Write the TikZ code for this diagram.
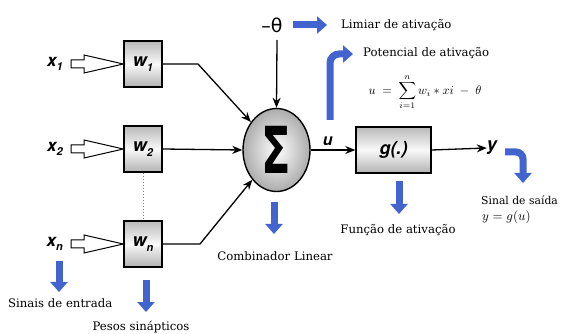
\documentclass[tikz,border=0pt]{standalone}
\usepackage{fontspec}
\usepackage{graphicx}
\setmainfont{DejaVu Serif}
\newfontfamily\hv{TeX Gyre Heros}
\newfontfamily\dvs{DejaVu Sans}
\usetikzlibrary{arrows.meta,calc,shapes.geometric}
\definecolor{barblue}{RGB}{66,100,206}
\newcommand\lsub[1]{\raisebox{-0.45ex}{\fontsize{11}{11}\selectfont #1}}
\newcommand\holarrow[2]{%
  \draw[line width=1pt, fill=white] let \p1=(#1), \p2=(#2) in
    (\x1,\y1+4pt) -- (\x1+13pt,\y1+4pt) -- (\x1+13pt,\y1+9pt) -- (\x2,\y1)
    -- (\x1+13pt,\y1-9pt) -- (\x1+13pt,\y1-4pt) -- (\x1,\y1-4pt) -- cycle;}
\begin{document}
\begin{tikzpicture}[x=1pt,y=-1pt,
  wbox/.style={draw=black, line width=1.4pt, minimum width=38pt, minimum height=46pt,
    top color=gray!55, bottom color=gray!60, middle color=gray!5, inner sep=0pt},
  lbl/.style={font=\hv\bfseries\itshape\fontsize{17}{17}\selectfont, inner sep=0pt},
  conn/.style={line width=1.3pt, -{Stealth[length=10pt,width=8pt]}},
  barrow/.style={barblue, line width=7pt, -{Triangle[length=10pt,width=17pt]}},
  txt/.style={font=\fontsize{11.7}{13}\selectfont, inner sep=0pt},
]
\useasboundingbox (0,0) rectangle (563,334);

% weight boxes
\node[wbox] (w1) at (143,64) {\hv\bfseries\itshape\fontsize{18}{18}\selectfont w\lsub{1}};
\node[wbox] (w2) at (143,149) {\hv\bfseries\itshape\fontsize{18}{18}\selectfont w\lsub{2}};
\node[wbox] (wn) at (143,244) {\hv\bfseries\itshape\fontsize{18}{18}\selectfont w\lsub{n}};
\draw[gray, line width=1pt, dotted] (w2.south) -- (wn.north);

% inputs
\node[lbl, anchor=east] (x1) at (63,64) {x\lsub{1}};
\node[lbl, anchor=east] (x2) at (63,149) {x\lsub{2}};
\node[lbl, anchor=east] (xn) at (63,244) {x\lsub{n}};
\coordinate (a1) at (71,64);
\coordinate (a2) at (71,149);
\coordinate (an) at (71,244);
\holarrow{a1}{w1.west}
\holarrow{a2}{w2.west}
\holarrow{an}{wn.west}

% summation
\node[ellipse, draw=black, line width=1.4pt, minimum width=67pt, minimum height=83pt,
  inner color=white, outer color=gray!65, inner sep=0pt] (sum) at (276.5,150)
  {\scalebox{0.72}[1.08]{\dvs\bfseries\fontsize{60}{60}\selectfont Σ}};

\coordinate (k1) at (198,64);
\coordinate (kn) at (200,244);
\draw[conn] (w1.east) -- (k1) -- (sum);
\draw[conn] (w2.east) -- (sum.west);
\draw[conn] (wn.east) -- (kn) -- (sum);

% threshold
\node[inner sep=0pt, font=\dvs\fontsize{19}{19}\selectfont] (th) at (272,25) {–θ};
\coordinate (th0) at (277,40);
\draw[conn] (th0) -- (sum.north);

% activation function
\node[wbox, minimum width=75pt] (g) at (393.5,150) {\hv\bfseries\itshape\fontsize{18}{18}\selectfont g(.)};
\draw[conn] (sum.east) -- node[lbl, above=4pt, pos=0.38, font=\hv\bfseries\itshape\fontsize{16}{16}\selectfont] (u) {u} (g.west);
\node[lbl, font=\hv\bfseries\itshape\fontsize{18}{18}\selectfont] (y) at (492,148) {y};
\draw[conn] (g.east) -- (y.west);

% annotations
\node[txt, anchor=west] (limiar) at (341,25) {Limiar de ativação};
\draw[barrow] (293,25) -- (327,25);

\node[txt, anchor=west] (pot) at (363,53) {Potencial de ativação};
\draw[barrow, rounded corners=9pt] (330,120) -- (330,54) -- (353,54);
\node[inner sep=0pt] (form) at (425,92)
  {\scalebox{1.22}{$u \;=\; \displaystyle\sum_{i=1}^{n} w_i * xi \;-\; \theta$}};

\draw[barrow, rounded corners=7pt] (505,152) -- (523,152) -- (523,183);
\node[font=\fontsize{10.8}{12}\selectfont, inner sep=0pt, anchor=west] (saida) at (481,200) {Sinal de saída};
\node[inner sep=0pt, anchor=west] (yg) at (482,217) {\scalebox{1.3}{$y = g(u)$}};

\draw[barrow] (399,181) -- (399,214);
\node[txt] (func) at (398,230) {Função de ativação};

\draw[barrow] (274,202) -- (274,234);
\node[txt] (comb) at (275,256) {Combinador Linear};

\draw[barrow] (59,261) -- (59,292);
\node[txt, anchor=west] (sinais) at (8,303) {Sinais de entrada};

\draw[barrow] (146,280) -- (146,312);
\node[txt] (pesos) at (141,327) {Pesos sinápticos};
\end{tikzpicture}
\end{document}
